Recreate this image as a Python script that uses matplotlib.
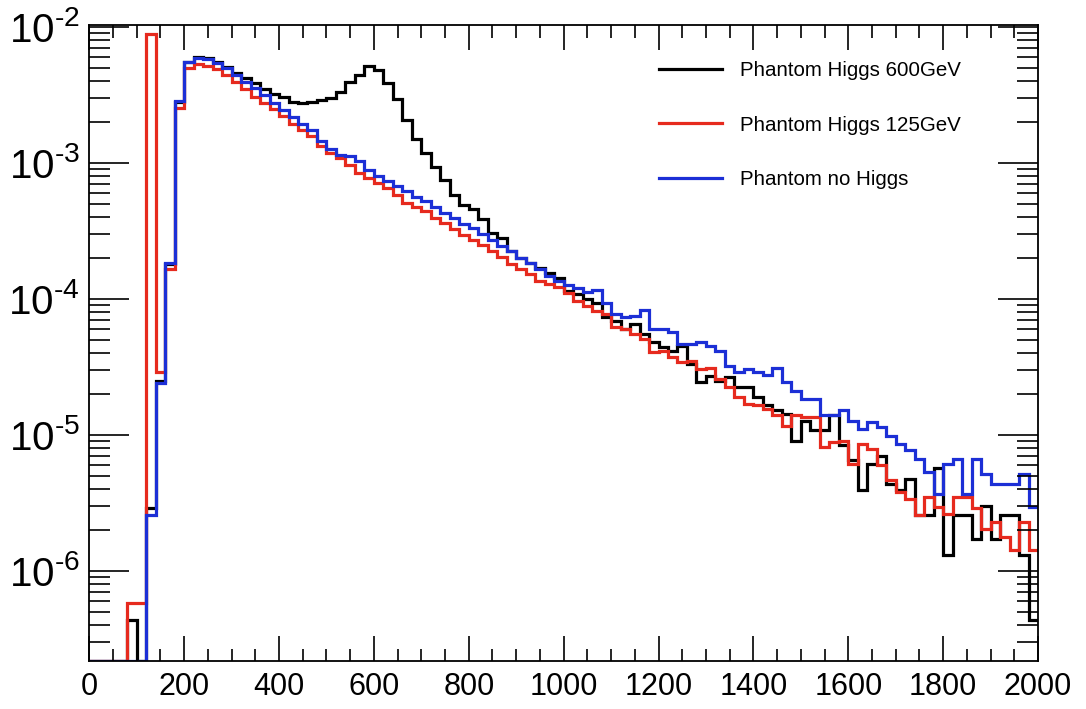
import numpy as np
import matplotlib
matplotlib.use("Agg")
import matplotlib.pyplot as plt
from matplotlib.ticker import MultipleLocator, LogLocator, FixedLocator, NullFormatter

# histogram: 100 bins of 20 GeV between 0 and 2000
bin_edges = np.linspace(0, 2000, 101)

higgs600 = [
    0, 0, 0, 0, 4.4e-7, 0, 2.9e-6, 2.5e-5, 1.8e-4, 2.8e-3,
    5.5e-3, 5.95e-3, 5.85e-3, 5.55e-3, 5.03e-3, 4.55e-3, 4.18e-3, 3.85e-3, 3.47e-3, 3.19e-3,
    3.03e-3, 2.82e-3, 2.74e-3, 2.82e-3, 2.90e-3, 3.02e-3, 3.34e-3, 3.95e-3, 4.43e-3, 5.15e-3,
    4.82e-3, 3.85e-3, 2.94e-3, 2.07e-3, 1.5e-3, 1.18e-3, 9.3e-4, 7.5e-4, 5.85e-4, 4.89e-4,
    4.54e-4, 3.84e-4, 3.06e-4, 2.81e-4, 2.25e-4, 2.01e-4, 1.85e-4, 1.68e-4, 1.56e-4, 1.43e-4,
    1.15e-4, 1.09e-4, 9.95e-5, 9.4e-5, 7.3e-5, 6.9e-5, 6.0e-5, 6.5e-5, 5.5e-5, 4.8e-5,
    4.4e-5, 4.16e-5, 4.53e-5, 3.33e-5, 2.44e-5, 2.73e-5, 2.51e-5, 2.65e-5, 2.24e-5, 2.24e-5,
    1.89e-5, 1.65e-5, 1.53e-5, 1.43e-5, 9.1e-6, 1.26e-5, 1.08e-5, 1.08e-5, 1.39e-5, 8.4e-6,
    6.5e-6, 3.92e-6, 6.15e-6, 6.95e-6, 4.38e-6, 3.92e-6, 4.77e-6, 2.57e-6, 2.6e-6, 5.75e-6,
    1.31e-6, 2.57e-6, 2.57e-6, 1.71e-6, 2.99e-6, 1.71e-6, 2.57e-6, 2.57e-6, 1.31e-6, 4.4e-7,
]

higgs125 = [
    0, 0, 0, 0, 5.8e-7, 5.8e-7, 8.8e-3, 2.9e-5, 1.67e-4, 2.55e-3,
    4.95e-3, 5.33e-3, 5.15e-3, 4.87e-3, 4.43e-3, 3.95e-3, 3.47e-3, 3.07e-3, 2.77e-3, 2.48e-3,
    2.22e-3, 1.94e-3, 1.73e-3, 1.58e-3, 1.32e-3, 1.19e-3, 1.08e-3, 9.7e-4, 8.4e-4, 7.75e-4,
    7.11e-4, 6.54e-4, 5.85e-4, 5.08e-4, 4.75e-4, 4.42e-4, 3.94e-4, 3.62e-4, 3.24e-4, 2.94e-4,
    2.69e-4, 2.48e-4, 2.25e-4, 2.03e-4, 1.8e-4, 1.65e-4, 1.52e-4, 1.35e-4, 1.29e-4, 1.22e-4,
    1.11e-4, 9.7e-5, 8.9e-5, 8.2e-5, 7.7e-5, 6.2e-5, 6.0e-5, 5.5e-5, 5.06e-5, 4.1e-5,
    4.16e-5, 3.72e-5, 3.42e-5, 3.52e-5, 3.06e-5, 3.1e-5, 2.58e-5, 2.24e-5, 1.89e-5, 1.69e-5,
    1.65e-5, 1.56e-5, 1.39e-5, 1.17e-5, 1.39e-5, 1.35e-5, 1.35e-5, 8.1e-6, 8.9e-6, 9.1e-6,
    6.15e-6, 8.6e-6, 7.9e-6, 5.97e-6, 4.64e-6, 3.81e-6, 3.4e-6, 2.57e-6, 3.5e-6, 2.96e-6,
    2.64e-6, 3.5e-6, 3.5e-6, 2.88e-6, 2.05e-6, 2.3e-6, 1.78e-6, 1.43e-6, 2.3e-6, 1.43e-6,
]

no_higgs = [
    0, 0, 0, 0, 0, 0, 2.6e-6, 2.4e-5, 1.85e-4, 2.83e-3,
    5.55e-3, 5.93e-3, 5.77e-3, 5.45e-3, 4.95e-3, 4.43e-3, 3.95e-3, 3.53e-3, 3.16e-3, 2.77e-3,
    2.45e-3, 2.17e-3, 1.94e-3, 1.75e-3, 1.44e-3, 1.26e-3, 1.15e-3, 1.12e-3, 1.03e-3, 8.9e-4,
    8.05e-4, 7.33e-4, 6.73e-4, 6.18e-4, 5.6e-4, 5.2e-4, 4.72e-4, 4.29e-4, 3.94e-4, 3.56e-4,
    3.33e-4, 2.98e-4, 2.69e-4, 2.44e-4, 2.25e-4, 2.01e-4, 1.85e-4, 1.65e-4, 1.47e-4, 1.35e-4,
    1.27e-4, 1.21e-4, 1.13e-4, 1.16e-4, 9.4e-5, 7.7e-5, 7.3e-5, 7.5e-5, 8.3e-5, 6.0e-5,
    6.0e-5, 5.67e-5, 4.66e-5, 4.66e-5, 4.79e-5, 4.53e-5, 4.16e-5, 3.23e-5, 2.89e-5, 3.06e-5,
    2.89e-5, 2.78e-5, 3.1e-5, 2.44e-5, 2.12e-5, 1.84e-5, 1.84e-5, 1.39e-5, 1.39e-5, 1.53e-5,
    1.26e-5, 1.11e-5, 1.24e-5, 1.14e-5, 9.9e-6, 8.6e-6, 7.7e-6, 6.7e-6, 5.3e-6, 3.7e-6,
    6.15e-6, 6.7e-6, 3.7e-6, 6.7e-6, 5.2e-6, 4.38e-6, 4.38e-6, 4.38e-6, 5.2e-6, 2.96e-6,
]

series = [
    (higgs600, "Phantom Higgs 600GeV", "black"),
    (higgs125, "Phantom Higgs 125GeV", "#e62a1e"),
    (no_higgs, "Phantom no Higgs", "#1c2fd6"),
]

y_decades = [6, 5, 4, 3, 2]
y_lo, y_hi = 2.18e-7, 1.03e-2

plt.rcParams["font.family"] = ["Liberation Sans", "DejaVu Sans"]
plt.rcParams["mathtext.fontset"] = "custom"
plt.rcParams["mathtext.rm"] = "Liberation Sans"
plt.rcParams["mathtext.it"] = "Liberation Sans"

fig = plt.figure(figsize=(10.86, 7.09), dpi=100)
ax = fig.add_axes([0.0822, 0.0677, 0.8736, 0.897])

for vals, label, col in series:
    # empty bins are drawn on the lower frame, like ROOT does on a log axis
    v = np.clip(np.asarray(vals, dtype=float), y_lo, None)
    ax.stairs(v, bin_edges, baseline=None, color=col, lw=2.3, label=label)

ax.set_yscale("log")
ax.set_xlim(0, 2000)
ax.set_ylim(y_lo, y_hi)

# ROOT-like ticks on all four sides
ax.xaxis.set_major_locator(MultipleLocator(200))
ax.xaxis.set_minor_locator(MultipleLocator(50))
ax.yaxis.set_major_locator(FixedLocator([10.0 ** -k for k in y_decades]))
ax.yaxis.set_minor_locator(LogLocator(base=10, subs=np.arange(2, 10), numticks=20))
ax.yaxis.set_minor_formatter(NullFormatter())
ax.set_yticklabels([r"$\mathregular{10^{\text{-}%d}}$" % k for k in y_decades])

ax.tick_params(axis="x", which="major", direction="in", length=18, width=1.2,
               top=True, bottom=True, pad=8, labelsize=22)
ax.tick_params(axis="x", which="minor", direction="in", length=9, width=1.2,
               top=True, bottom=True)
ax.tick_params(axis="y", which="major", direction="in", length=29, width=1.2,
               left=True, right=True, pad=7, labelsize=29)
ax.tick_params(axis="y", which="minor", direction="in", length=15, width=1.2,
               left=True, right=True)
for sp in ax.spines.values():
    sp.set_linewidth(1.3)

leg = ax.legend(loc="upper right", bbox_to_anchor=(0.938, 0.972), frameon=False,
                fontsize=14.8, handlelength=3.1, handletextpad=0.85, labelspacing=1.72)
for line in leg.get_lines():
    line.set_linewidth(2.3)

fig.savefig("out.png", dpi=100, facecolor="white")
